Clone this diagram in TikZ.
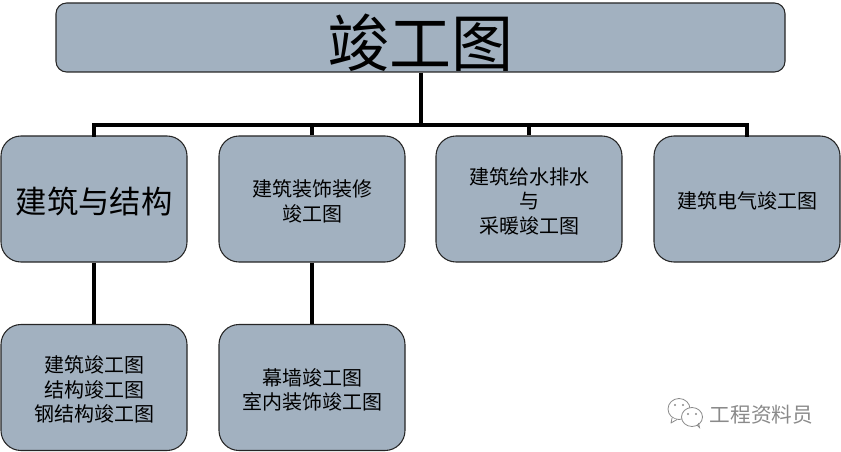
\documentclass[tikz,border=0pt]{standalone}
\usepackage{fontspec}
\setmainfont{Noto Sans CJK SC}
\definecolor{boxfill}{HTML}{A2B1C0}
\definecolor{wmgray}{HTML}{8A8A8A}
\tikzset{
  x=0.75pt,y=-0.75pt,
  box/.style={draw=black!85,line width=0.8pt,fill=boxfill,rounded corners=15pt,inner sep=0pt,
    minimum width=139.5pt,minimum height=94.5pt,anchor=center},
  topbox/.style={box,rounded corners=8pt,minimum width=546.75pt,minimum height=51.75pt},
  txt/.style={inner sep=0pt,align=center,yshift=-1.6pt,font=\fontsize{15}{18.4}\selectfont},
  txtbig/.style={txt,font=\fontsize{23.5}{28}\selectfont},
  txttop/.style={txt,yshift=-2pt,font=\fontsize{46.5}{50}\selectfont},
  link/.style={line width=3pt,black},
  bubble/.style={draw=wmgray,line width=0.6pt,fill=white,line join=round},
}
\begin{document}
\begin{tikzpicture}
\useasboundingbox (0,0) rectangle (841,452);
\node[topbox,label={[txttop]center:竣工图}] (top) at (420.5,37.5) {};
\node[box,label={[txtbig]center:建筑与结构}] (a) at (94,199) {};
\node[box,label={[txt]center:{建筑装饰装修\\竣工图}}] (b) at (312,199) {};
\node[box,label={[txt]center:{建筑给水排水\\与\\采暖竣工图}}] (c) at (529,199) {};
\node[box,label={[txt]center:建筑电气竣工图}] (d) at (747,199) {};
\node[box,label={[txt]center:{建筑竣工图\\结构竣工图\\钢结构竣工图}}] (e) at (94,387.5) {};
\node[box,label={[txt]center:{幕墙竣工图\\室内装饰竣工图}}] (f) at (312,387.5) {};
\coordinate (j) at (top.south |- 0,125);
\draw[link] (top.south) -- (j);
\draw[link,line cap=rect] (a.north) -- (a.north |- j) -- (d.north |- j) -- (d.north);
\draw[link] (b.north) -- (b.north |- j);
\draw[link] (c.north) -- (c.north |- j);
\draw[link] (a.south) -- (e.north);
\draw[link] (b.south) -- (f.north);
% watermark
\draw[bubble] (679,409) ellipse [x radius=11,y radius=10.5];
\draw[bubble] (672,418) -- (671,423) -- (677,419.5);
\draw[bubble] (692,417) ellipse [x radius=10.5,y radius=9.5];
\draw[wmgray,line width=0.6pt] (697,425) -- (699.5,427.5) -- (698.5,423);
\fill[wmgray] (675,405) circle (1.2) (683,405) circle (1.2) (688,414) circle (1.2) (696,414) circle (1.2);
\node[text=wmgray,inner sep=0pt,font=\fontsize{15.5}{18}\selectfont] (w) at (761.5,415) {工程资料员};
\end{tikzpicture}
\end{document}
